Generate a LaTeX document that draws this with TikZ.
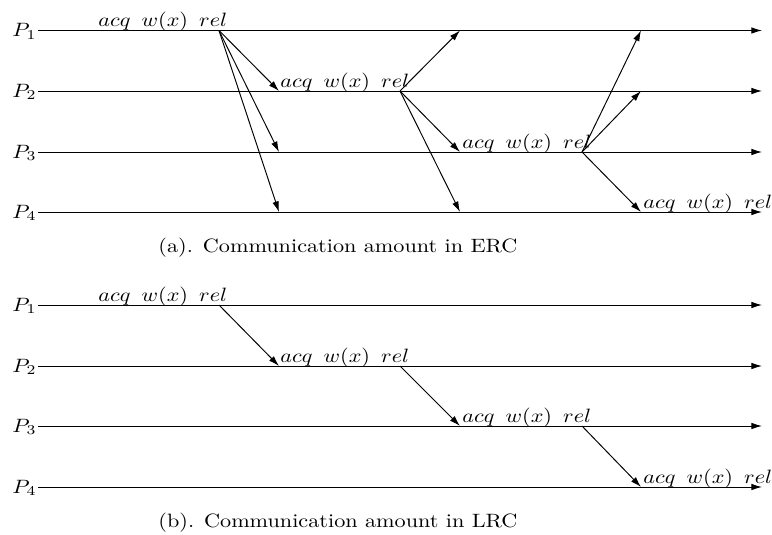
\documentclass[tikz,border=0pt]{standalone}
\usetikzlibrary{arrows.meta}
% text is set slightly wide, as in the printed figure
\newcommand{\widetext}[1]{\scalebox{1.15}[1]{#1}}
\newcommand{\ops}{\widetext{$acq\hspace{5pt}w(x)\hspace{5pt}rel$}}
\begin{document}
\begin{tikzpicture}[x=0.518pt,y=-0.518pt,line width=0.5pt,
  timeline/.style={-{Latex[length=5.5pt,width=3.4pt]}},
  msg/.style={-{Latex[length=5.5pt,width=3.4pt]}},
  proc/.style={anchor=base east,inner sep=0pt},
  opslabel/.style={anchor=base west,inner sep=0pt},
  caption/.style={anchor=base west,inner sep=0pt}]
\useasboundingbox (0,0) rectangle (772,535);

% ---------- (a) eager release consistency ----------
\foreach \i/\y in {1/30.5,2/91,3/152,4/212} {
  \coordinate (a\i s) at (38,\y);
  \coordinate (a\i e) at (762,\y);
  \draw[timeline] (a\i s) -- (a\i e);
  \node[proc] (aP\i) at (37,\y+6) {\widetext{$P_{\i}$}};
}
% release points and arrival points
\coordinate (ar1) at (219,30.5);
\coordinate (ar2) at (400,91);
\coordinate (ar3) at (582,152);
\coordinate (ax2) at (279,91);  \coordinate (ax3) at (279,152); \coordinate (ax4) at (279,212);
\coordinate (ay1) at (460,30.5);\coordinate (ay3) at (460,152); \coordinate (ay4) at (460,212);
\coordinate (az1) at (641,30.5);\coordinate (az2) at (641,91);  \coordinate (az4) at (641,212);

\draw[msg] (ar1) -- (ax2);
\draw[msg] (ar1) -- (ax3);
\draw[msg] (ar1) -- (ax4);
\draw[msg] (ar2) -- (ay1);
\draw[msg] (ar2) -- (ay3);
\draw[msg] (ar2) -- (ay4);
\draw[msg] (ar3) -- (az1);
\draw[msg] (ar3) -- (az2);
\draw[msg] (ar3) -- (az4);

\node[opslabel] (aop1) at (98,26.5) {\ops};
\node[opslabel] (aop2) at (280,87) {\ops};
\node[opslabel] (aop3) at (462,148) {\ops};
\node[opslabel] (aop4) at (643,208) {\ops};

\node[caption] (capa) at (158,252) {\widetext{(a). Communication amount in ERC}};

% ---------- (b) lazy release consistency ----------
\foreach \i/\y in {1/305,2/366,3/426,4/487} {
  \coordinate (b\i s) at (38,\y);
  \coordinate (b\i e) at (762,\y);
  \draw[timeline] (b\i s) -- (b\i e);
  \node[proc] (bP\i) at (37,\y+6) {\widetext{$P_{\i}$}};
}
\coordinate (br1) at (219,305);
\coordinate (br2) at (400,366);
\coordinate (br3) at (582,426);
\coordinate (bx2) at (279,366);
\coordinate (bx3) at (460,426);
\coordinate (bx4) at (641,487);

\draw[msg] (br1) -- (bx2);
\draw[msg] (br2) -- (bx3);
\draw[msg] (br3) -- (bx4);

\node[opslabel] (bop1) at (98,301) {\ops};
\node[opslabel] (bop2) at (280,362) {\ops};
\node[opslabel] (bop3) at (462,422) {\ops};
\node[opslabel] (bop4) at (643,483) {\ops};

\node[caption] (capb) at (158,527) {\widetext{(b). Communication amount in LRC}};
\end{tikzpicture}
\end{document}
